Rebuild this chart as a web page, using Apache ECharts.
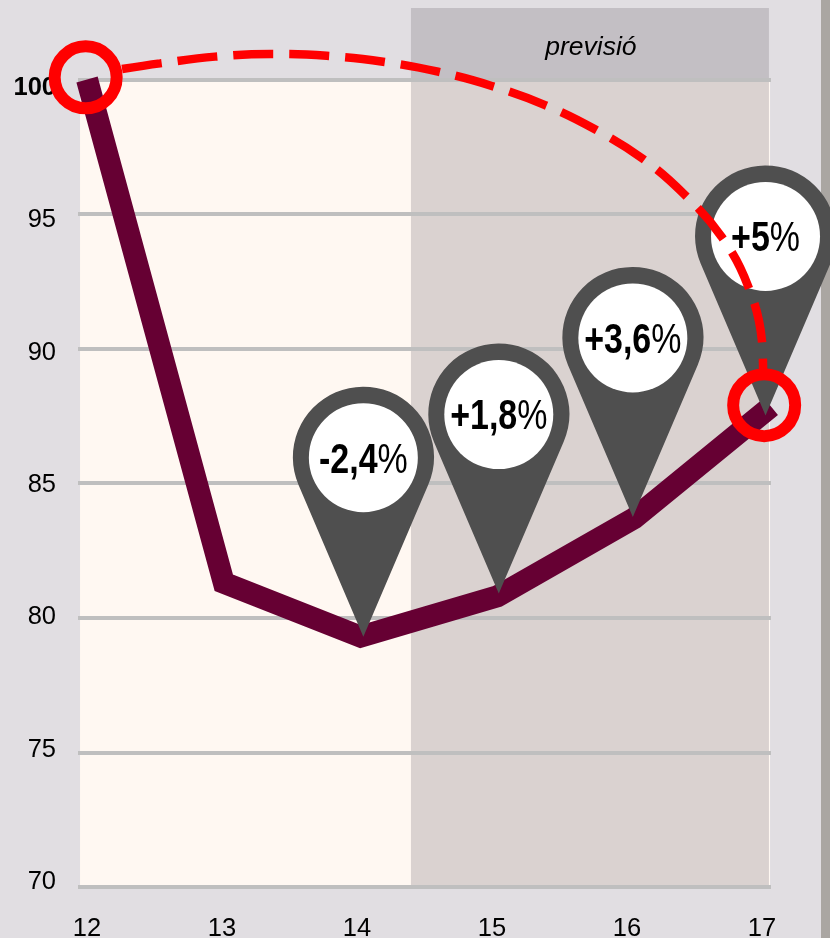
<!DOCTYPE html>
<html>
<head>
<meta charset="utf-8">
<script src="https://cdn.jsdelivr.net/npm/echarts@6/dist/echarts.min.js"></script>
<style>
html, body { margin: 0; padding: 0; background: #e1dee2; }
#chart { width: 830px; height: 938px; }
</style>
</head>
<body>
<div id="chart"></div>
<script>
var yearLabels = ['12', '13', '14', '15', '16', '17'];
var years = [12, 13, 14, 15, 16, 17];
var indexValues = [100, 81.3, 79.3, 80.8, 83.7, 87.85];

// pins sit a little off the line in the original
var pinYears = [14.02, 15.01, 15.99, 16.96];
var pinValues = [79.3, 80.9, 83.75, 87.52];
var pinText = ['-2,4', '+1,8', '+3,6', '+5'];

var ringYears = [11.99, 16.95];
var ringValues = [100.08, 87.9];

// dashed arc between the two rings
var arcYears = [12.256, 12.534, 12.936, 13.345, 13.752, 14.164, 14.566, 14.958, 15.348, 15.713, 16.064, 16.371, 16.64, 16.832, 16.934, 16.942];
var arcValues = [100.39, 100.6, 100.85, 100.95, 100.88, 100.66, 100.29, 99.76, 99.05, 98.15, 97.05, 95.71, 94.15, 92.33, 90.28, 89.21];

var pinPath = 'path://M70.5 250L5.6 98A70.5 70.5 0 1 1 135.4 98Z';

var myChart = echarts.init(document.getElementById('chart'));

// white pin face with the growth text, squeezed like the condensed font of the original
function renderPinFace(params, api) {
    var p = api.coord([api.value(0), api.value(1)]);
    return {
        type: 'group',
        children: [
            {
                type: 'circle',
                shape: { cx: p[0], cy: p[1] - 179, r: 54.5 },
                style: { fill: '#fff' }
            },
            {
                type: 'text',
                x: p[0],
                y: p[1] - 176,
                scaleX: 0.79,
                style: {
                    text: '{num|' + pinText[params.dataIndex] + '}{pct|%}',
                    align: 'center',
                    verticalAlign: 'middle',
                    rich: {
                        num: { fontFamily: '"Liberation Sans", sans-serif', fontSize: 43, fontWeight: 'bold', fill: '#000' },
                        pct: { fontFamily: '"Liberation Sans", sans-serif', fontSize: 43, fill: '#000' }
                    }
                }
            }
        ]
    };
}

var option = {
    backgroundColor: '#e1dee2',
    animation: false,
    textStyle: {
        fontFamily: '"Liberation Sans", Arial, sans-serif'
    },
    graphic: {
        elements: [
            {
                type: 'rect',
                z: 0,
                silent: true,
                shape: { x: 821, y: 0, width: 9, height: 938 },
                style: { fill: '#aaa6a2' }
            }
        ]
    },
    grid: [
        { left: 78, width: 693, top: 8, height: 879 },
        { left: 87, width: 675, top: 886, height: 1 },
        // tick labels of the y axis are spaced a bit tighter than the gridlines
        { left: 78, width: 693, top: 88, height: 794 }
    ],
    xAxis: [
        {
            type: 'value',
            gridIndex: 0,
            min: 11.934,
            max: 17,
            show: false
        },
        {
            type: 'category',
            gridIndex: 1,
            boundaryGap: false,
            data: yearLabels,
            axisLine: { show: false },
            axisTick: { show: false },
            axisLabel: {
                interval: 0,
                margin: 30,
                fontSize: 25.5,
                color: '#000'
            }
        },
        { type: 'value', gridIndex: 2, show: false }
    ],
    yAxis: [
        {
            type: 'value',
            gridIndex: 0,
            min: 70,
            max: 102.656,
            interval: 5,
            z: 2,
            axisLine: { show: false },
            axisTick: { show: false },
            axisLabel: { show: false },
            splitLine: {
                showMaxLine: false,
                lineStyle: { color: '#bfbfbf', width: 4 }
            }
        },
        { type: 'value', gridIndex: 1, show: false },
        {
            type: 'value',
            gridIndex: 2,
            min: 70,
            max: 100,
            interval: 5,
            z: 2,
            axisLine: { show: false },
            axisTick: { show: false },
            splitLine: { show: false },
            axisLabel: {
                margin: 22,
                fontSize: 25.5,
                color: '#000',
                formatter: function (v) {
                    return v === 100 ? '{top|100}' : String(v);
                },
                rich: {
                    top: { fontSize: 25.5, fontWeight: 'bold', color: '#000' }
                }
            }
        }
    ],
    series: [
        {
            // background bands
            type: 'line',
            xAxisIndex: 0,
            yAxisIndex: 0,
            data: [],
            markArea: {
                silent: true,
                z: 1,
                data: [
                    [
                        { xAxis: 11.949, yAxis: 100, itemStyle: { color: '#fff8f2' } },
                        { xAxis: 16.993, yAxis: 70 }
                    ],
                    [
                        { xAxis: 14.368, yAxis: 100, itemStyle: { color: '#dad2d0' } },
                        { xAxis: 16.985, yAxis: 70 }
                    ],
                    [
                        {
                            name: 'previsió',
                            xAxis: 14.368,
                            yAxis: 102.656,
                            itemStyle: { color: '#c3bfc4' },
                            label: {
                                show: true,
                                position: 'inside',
                                offset: [1, 4],
                                fontSize: 26.5,
                                fontStyle: 'italic',
                                color: '#000'
                            }
                        },
                        { xAxis: 16.985, yAxis: 100 }
                    ]
                ]
            }
        },
        {
            type: 'line',
            xAxisIndex: 0,
            yAxisIndex: 0,
            z: 3,
            symbol: 'none',
            clip: false,
            lineStyle: { color: '#660033', width: 22, cap: 'butt', join: 'miter', miterLimit: 20 },
            data: years.map(function (y, i) { return [y, indexValues[i]]; })
        },
        {
            // pin bodies, tip on the data point
            type: 'scatter',
            xAxisIndex: 0,
            yAxisIndex: 0,
            z: 4,
            clip: false,
            symbol: pinPath,
            symbolSize: [141, 250],
            symbolOffset: [0, -125],
            itemStyle: { color: '#4f4f4f', opacity: 1 },
            data: pinYears.map(function (y, i) { return [y, pinValues[i]]; })
        },
        {
            type: 'custom',
            xAxisIndex: 0,
            yAxisIndex: 0,
            z: 5,
            clip: false,
            renderItem: renderPinFace,
            encode: { x: 0, y: 1 },
            data: pinYears.map(function (y, i) { return [y, pinValues[i]]; })
        },
        {
            type: 'line',
            xAxisIndex: 0,
            yAxisIndex: 0,
            z: 6,
            smooth: 0.4,
            symbol: 'none',
            clip: false,
            lineStyle: { color: '#ff0000', width: 8.5, type: [40, 16], cap: 'butt' },
            data: arcYears.map(function (y, i) { return [y, arcValues[i]]; })
        },
        {
            type: 'scatter',
            xAxisIndex: 0,
            yAxisIndex: 0,
            z: 7,
            symbol: 'circle',
            symbolSize: 62,
            clip: false,
            itemStyle: { color: 'rgba(0,0,0,0)', borderColor: '#ff0000', borderWidth: 12, opacity: 1 },
            data: ringYears.map(function (y, i) { return [y, ringValues[i]]; })
        }
    ]
};

myChart.setOption(option);
</script>
</body>
</html>
